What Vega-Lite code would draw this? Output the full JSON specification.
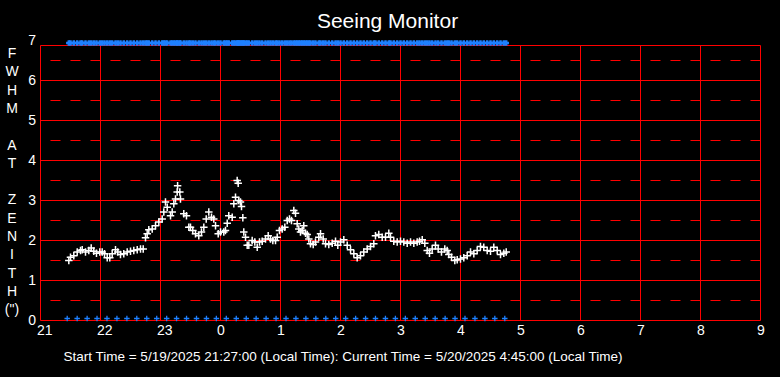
{
  "$schema": "https://vega.github.io/schema/vega-lite/v6.json",
  "width": 720,
  "height": 280,
  "autosize": {"type": "none"},
  "padding": {"left": 40.5, "top": 40.5, "right": 19.5, "bottom": 56.5},
  "background": "black",
  "config": {"view": {"stroke": null}, "font": "Liberation Sans"},
  "title": {"text": "Seeing Monitor", "color": "white", "fontSize": 21, "fontWeight": "normal", "font": "Liberation Sans", "anchor": "middle", "frame": "group", "dx": -13, "offset": 2},
  "datasets": {
    "hs": [{"v": 0}, {"v": 1}, {"v": 2}, {"v": 3}, {"v": 4}, {"v": 5}, {"v": 6}, {"v": 6.875}],
    "hd": [{"v": 0.5}, {"v": 1.5}, {"v": 2.5}, {"v": 3.5}, {"v": 4.5}, {"v": 5.5}, {"v": 6.5}],
    "vg": [{"h": 21}, {"h": 22}, {"h": 23}, {"h": 24}, {"h": 25}, {"h": 26}, {"h": 27}, {"h": 28}, {"h": 29}, {"h": 30}, {"h": 31}, {"h": 32}, {"h": 33}],
    "ticks": [{"h": 21.445}, {"h": 21.611}, {"h": 21.777}, {"h": 21.942}, {"h": 22.108}, {"h": 22.274}, {"h": 22.44}, {"h": 22.605}, {"h": 22.771}, {"h": 22.937}, {"h": 23.103}, {"h": 23.268}, {"h": 23.434}, {"h": 23.6}, {"h": 23.766}, {"h": 23.931}, {"h": 24.097}, {"h": 24.263}, {"h": 24.429}, {"h": 24.594}, {"h": 24.76}, {"h": 24.926}, {"h": 25.092}, {"h": 25.257}, {"h": 25.423}, {"h": 25.589}, {"h": 25.755}, {"h": 25.92}, {"h": 26.086}, {"h": 26.252}, {"h": 26.418}, {"h": 26.583}, {"h": 26.749}, {"h": 26.915}, {"h": 27.081}, {"h": 27.246}, {"h": 27.412}, {"h": 27.578}, {"h": 27.744}, {"h": 27.909}, {"h": 28.075}, {"h": 28.241}, {"h": 28.407}, {"h": 28.572}, {"h": 28.738}],
    "fwhm": [
      {"h": 21.472, "v": 1.5}, {"h": 21.5, "v": 1.58}, {"h": 21.555, "v": 1.62}, {"h": 21.612, "v": 1.71}, {"h": 21.667, "v": 1.75}, {"h": 21.695, "v": 1.77}, {"h": 21.75, "v": 1.71}, {"h": 21.805, "v": 1.75}, {"h": 21.845, "v": 1.81}, {"h": 21.888, "v": 1.73}, {"h": 21.933, "v": 1.68}, {"h": 21.988, "v": 1.71}, {"h": 22.028, "v": 1.71}, {"h": 22.067, "v": 1.67}, {"h": 22.112, "v": 1.57}, {"h": 22.155, "v": 1.57}, {"h": 22.195, "v": 1.67}, {"h": 22.25, "v": 1.77}, {"h": 22.288, "v": 1.71}, {"h": 22.333, "v": 1.65}, {"h": 22.388, "v": 1.67}, {"h": 22.445, "v": 1.71}, {"h": 22.5, "v": 1.73}, {"h": 22.555, "v": 1.75}, {"h": 22.612, "v": 1.77}, {"h": 22.667, "v": 1.79}, {"h": 22.712, "v": 1.79},
      {"h": 22.75, "v": 2.07}, {"h": 22.778, "v": 2.17}, {"h": 22.805, "v": 2.27}, {"h": 22.862, "v": 2.29}, {"h": 22.917, "v": 2.37}, {"h": 22.972, "v": 2.46}, {"h": 23.028, "v": 2.54}, {"h": 23.055, "v": 2.71}, {"h": 23.083, "v": 2.96}, {"h": 23.112, "v": 2.83}, {"h": 23.167, "v": 2.62}, {"h": 23.195, "v": 2.71}, {"h": 23.222, "v": 2.92}, {"h": 23.25, "v": 3.04}, {"h": 23.278, "v": 3.21}, {"h": 23.285, "v": 3.37}, {"h": 23.322, "v": 3.21}, {"h": 23.333, "v": 3.04}, {"h": 23.388, "v": 2.67}, {"h": 23.433, "v": 2.62}, {"h": 23.472, "v": 2.33},
      {"h": 23.5, "v": 2.33}, {"h": 23.538, "v": 2.25}, {"h": 23.583, "v": 2.17}, {"h": 23.638, "v": 2.12}, {"h": 23.683, "v": 2.21}, {"h": 23.722, "v": 2.33}, {"h": 23.762, "v": 2.54}, {"h": 23.805, "v": 2.71}, {"h": 23.85, "v": 2.58}, {"h": 23.888, "v": 2.54}, {"h": 23.917, "v": 2.37}, {"h": 23.962, "v": 2.17}, {"h": 24.0, "v": 2.21}, {"h": 24.055, "v": 2.21}, {"h": 24.083, "v": 2.25}, {"h": 24.112, "v": 2.43}, {"h": 24.138, "v": 2.62}, {"h": 24.195, "v": 2.58}, {"h": 24.222, "v": 2.92}, {"h": 24.25, "v": 3.08}, {"h": 24.278, "v": 3.5}, {"h": 24.295, "v": 3.43}, {"h": 24.305, "v": 3.0}, {"h": 24.333, "v": 2.96}, {"h": 24.35, "v": 2.85}, {"h": 24.372, "v": 2.57}, {"h": 24.388, "v": 2.21}, {"h": 24.417, "v": 2.08}, {"h": 24.445, "v": 1.88}, {"h": 24.472, "v": 1.88}, {"h": 24.528, "v": 2.0}, {"h": 24.572, "v": 1.96}, {"h": 24.612, "v": 1.83}, {"h": 24.65, "v": 1.96}, {"h": 24.695, "v": 1.98}, {"h": 24.75, "v": 2.04}, {"h": 24.795, "v": 2.12}, {"h": 24.833, "v": 2.04}, {"h": 24.872, "v": 2.0}, {"h": 24.917, "v": 2.0}, {"h": 24.945, "v": 2.08}, {"h": 24.983, "v": 2.25}, {"h": 25.028, "v": 2.29}, {"h": 25.072, "v": 2.33}, {"h": 25.112, "v": 2.5}, {"h": 25.15, "v": 2.54}, {"h": 25.183, "v": 2.5}, {"h": 25.222, "v": 2.75}, {"h": 25.25, "v": 2.68}, {"h": 25.278, "v": 2.42}, {"h": 25.305, "v": 2.29}, {"h": 25.333, "v": 2.21}, {"h": 25.362, "v": 2.25}, {"h": 25.388, "v": 2.37}, {"h": 25.417, "v": 2.18}, {"h": 25.445, "v": 2.15}, {"h": 25.472, "v": 2.04}, {"h": 25.5, "v": 1.92}, {"h": 25.545, "v": 1.9}, {"h": 25.583, "v": 1.96}, {"h": 25.638, "v": 2.08}, {"h": 25.667, "v": 2.17}, {"h": 25.712, "v": 2.04}, {"h": 25.75, "v": 1.92}, {"h": 25.805, "v": 1.9}, {"h": 25.862, "v": 1.93}, {"h": 25.917, "v": 1.98}, {"h": 25.955, "v": 1.88}, {"h": 26.0, "v": 1.96}, {"h": 26.055, "v": 2.02}, {"h": 26.112, "v": 1.88}, {"h": 26.167, "v": 1.77}, {"h": 26.222, "v": 1.67}, {"h": 26.278, "v": 1.57}, {"h": 26.333, "v": 1.62}, {"h": 26.388, "v": 1.71}, {"h": 26.445, "v": 1.79}, {"h": 26.5, "v": 1.85}, {"h": 26.555, "v": 1.92}, {"h": 26.583, "v": 2.12}, {"h": 26.638, "v": 2.15}, {"h": 26.695, "v": 2.08}, {"h": 26.75, "v": 2.08}, {"h": 26.805, "v": 2.18}, {"h": 26.833, "v": 2.08}, {"h": 26.888, "v": 1.98}, {"h": 26.945, "v": 1.96}, {"h": 27.0, "v": 1.98}, {"h": 27.055, "v": 1.96}, {"h": 27.112, "v": 1.93}, {"h": 27.167, "v": 1.96}, {"h": 27.222, "v": 1.93}, {"h": 27.278, "v": 1.96}, {"h": 27.317, "v": 1.98}, {"h": 27.362, "v": 2.02}, {"h": 27.405, "v": 1.93}, {"h": 27.445, "v": 1.75}, {"h": 27.483, "v": 1.68}, {"h": 27.528, "v": 1.79}, {"h": 27.583, "v": 1.88}, {"h": 27.628, "v": 1.79}, {"h": 27.683, "v": 1.71}, {"h": 27.738, "v": 1.79}, {"h": 27.778, "v": 1.75}, {"h": 27.805, "v": 1.65}, {"h": 27.85, "v": 1.58}, {"h": 27.905, "v": 1.5}, {"h": 27.945, "v": 1.52}, {"h": 28.0, "v": 1.54}, {"h": 28.055, "v": 1.57}, {"h": 28.112, "v": 1.62}, {"h": 28.167, "v": 1.71}, {"h": 28.222, "v": 1.67}, {"h": 28.278, "v": 1.75}, {"h": 28.333, "v": 1.85}, {"h": 28.388, "v": 1.83}, {"h": 28.445, "v": 1.75}, {"h": 28.5, "v": 1.73}, {"h": 28.555, "v": 1.83}, {"h": 28.612, "v": 1.75}, {"h": 28.667, "v": 1.65}, {"h": 28.722, "v": 1.68}, {"h": 28.762, "v": 1.71}
    ]
  },
  "encoding": {
    "x": {"field": "h", "type": "quantitative", "scale": {"domain": [21, 33], "nice": false, "zero": false}, "axis": {"values": [21, 22, 23, 24, 25, 26, 27, 28, 29, 30, 31, 32, 33], "labelExpr": "'' + (datum.value % 24)", "grid": false, "ticks": false, "domain": false, "labelFlush": false, "labelAlign": "left", "labelOffset": -4, "labelColor": "white", "labelFontSize": 14, "labelFont": "Liberation Sans", "labelPadding": 3, "title": "Start Time = 5/19/2025 21:27:00 (Local Time): Current Time = 5/20/2025 4:45:00 (Local Time)", "titleColor": "white", "titleFont": "Liberation Sans", "titleFontSize": 13.5, "titleFontWeight": "normal", "titleX": 302, "titleY": 40, "titleAlign": "center", "titleBaseline": "alphabetic"}},
    "y": {"field": "v", "type": "quantitative", "scale": {"domain": [0, 7], "nice": false, "zero": false}, "axis": {"values": [0, 1, 2, 3, 4, 5, 6, 7], "grid": false, "ticks": false, "domain": false, "labelFlush": false, "labelOverlap": false, "labelColor": "white", "labelFontSize": 14, "labelFont": "Liberation Sans", "labelPadding": 5, "title": ["F", "W", "H", "M", "\u2800", "A", "T", "\u2800", "Z", "E", "N", "I", "T", "H", "(\")"], "titleColor": "white", "titleFont": "Liberation Sans", "titleFontSize": 14, "titleFontWeight": "normal", "titleAngle": 0, "titleX": -29, "titleY": 6, "titleAlign": "center", "titleBaseline": "top", "titleLineHeight": 18.3}}
  },
  "layer": [
    {
      "data": {"name": "hs"},
      "mark": {"type": "rule", "color": "#ff0000", "strokeWidth": 1},
      "encoding": {"x": null}
    },
    {
      "data": {"name": "hd"},
      "mark": {"type": "rule", "color": "#ff0000", "strokeWidth": 1, "strokeDash": [10, 10]},
      "encoding": {"x": null}
    },
    {
      "data": {"name": "vg"},
      "mark": {"type": "rule", "color": "#ff0000", "strokeWidth": 1, "y": "height", "y2": {"expr": "scale('y', 6.875)"}},
      "encoding": {"y": null}
    },
    {
      "data": {"name": "fwhm"},
      "mark": {"type": "point", "shape": "M-1,0L1,0M0,-1L0,1", "filled": false, "stroke": "#1e80ff", "strokeWidth": 2.5, "size": 30, "opacity": 1},
      "encoding": {
        "y": {"datum": 6.94, "type": "quantitative", "axis": {"values": [0, 1, 2, 3, 4, 5, 6, 7], "grid": false, "ticks": false, "domain": false, "labelFlush": false, "labelOverlap": false, "labelColor": "white", "labelFontSize": 14, "labelFont": "Liberation Sans", "labelPadding": 5, "title": ["F", "W", "H", "M", "\u2800", "A", "T", "\u2800", "Z", "E", "N", "I", "T", "H", "(\")"], "titleColor": "white", "titleFont": "Liberation Sans", "titleFontSize": 14, "titleFontWeight": "normal", "titleAngle": 0, "titleX": -29, "titleY": 6, "titleAlign": "center", "titleBaseline": "top", "titleLineHeight": 18.3}}
      }
    },
    {
      "data": {"name": "fwhm"},
      "mark": {"type": "point", "shape": "M-1,0L1,0M0,-1L0,1", "filled": false, "stroke": "white", "strokeWidth": 1.5, "size": 56, "opacity": 1},
      "encoding": {}
    },
    {
      "data": {"name": "ticks"},
      "mark": {"type": "point", "shape": "M-1,0L1,0M0,-1L0,1", "filled": false, "stroke": "#1e80ff", "strokeWidth": 1.3, "size": 30, "opacity": 1, "y": "height", "yOffset": -2},
      "encoding": {"y": null}
    }
  ]
}
